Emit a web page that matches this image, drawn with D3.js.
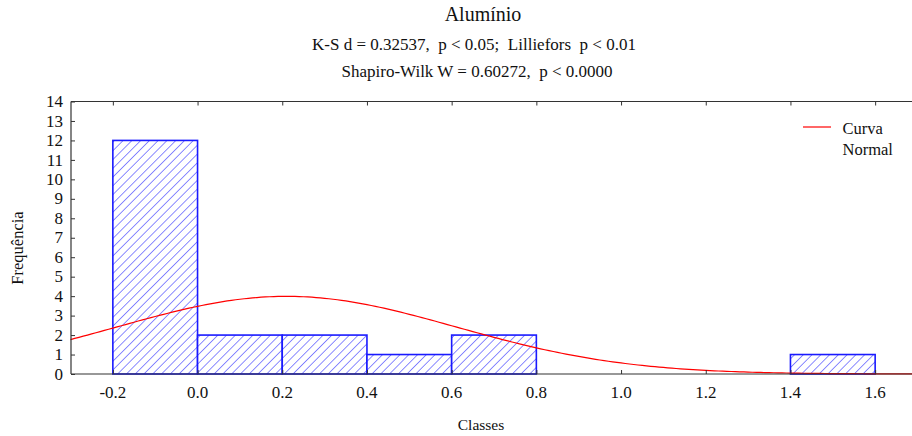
<!DOCTYPE html>
<html>
<head>
<meta charset="utf-8">
<script src="https://cdn.jsdelivr.net/npm/d3@7"></script>
<style>
  html, body { margin: 0; padding: 0; background: #fff; }
  svg { display: block; }
</style>
</head>
<body>
<svg id="chart" width="912" height="436"></svg>
<script>
// Histogram classes (lower and upper bounds) and their frequencies
const binStart = [-0.2, 0.0, 0.2, 0.4, 0.6, 1.4];
const binEnd   = [ 0.0, 0.2, 0.4, 0.6, 0.8, 1.6];
const counts   = [12, 2, 2, 1, 2, 1];

// Fitted normal curve parameters (expected frequency per class)
const normalMean = 0.21;
const normalSd = 0.40;
const sampleSize = 20;
const classWidth = 0.2;

const xTicks = [-0.2, 0.0, 0.2, 0.4, 0.6, 0.8, 1.0, 1.2, 1.4, 1.6];
const yTicks = [0, 1, 2, 3, 4, 5, 6, 7, 8, 9, 10, 11, 12, 13, 14];

const titleText = "Alumínio";
const subtitleLines = [
  "K-S d = 0.32537,  p < 0.05;  Lilliefors  p < 0.01",
  "Shapiro-Wilk W = 0.60272,  p < 0.0000"
];
const xLabel = "Classes";
const yLabel = "Frequência";
const legendLines = ["Curva", "Normal"];

const FONT = "Liberation Serif";
const svg = d3.select("#chart");
const plot = { left: 71, top: 101.5, bottom: 374 };

// serif text styling
function label(sel, size) {
  return sel.style("font-family", FONT)
    .style("white-space", "pre")
    .attr("font-size", size)
    .attr("fill", "#111");
}

const x = d3.scaleLinear().domain([-0.3, 1.7]).range([70.5, 917.5]);
const y = d3.scaleLinear().domain([0, 14]).range([374, 101.5]);

// Diagonal hatch for the bars
const hs = 6.2;
const defs = svg.append("defs");
const pat = defs.append("pattern")
  .attr("id", "hatch")
  .attr("patternUnits", "userSpaceOnUse")
  .attr("width", hs).attr("height", hs)
  .attr("patternTransform", "rotate(45)");
pat.append("rect").attr("width", hs).attr("height", hs).attr("fill", "#fff");
pat.append("line")
  .attr("x1", 0).attr("y1", 0).attr("x2", 0).attr("y2", hs)
  .attr("stroke", "#4040ff").attr("stroke-width", 1.2);

// Bars
svg.append("g").selectAll("rect")
  .data(counts)
  .join("rect")
  .attr("x", (d, i) => x(binStart[i]))
  .attr("y", d => y(d))
  .attr("width", (d, i) => x(binEnd[i]) - x(binStart[i]))
  .attr("height", d => y(0) - y(d))
  .attr("fill", "url(#hatch)")
  .attr("stroke", "#1a1aff")
  .attr("stroke-width", 1.6);

// Normal curve
const curveX = d3.range(-0.3, 1.7001, 0.01);
const normalFreq = v => sampleSize * classWidth *
  Math.exp(-0.5 * Math.pow((v - normalMean) / normalSd, 2)) / (normalSd * Math.sqrt(2 * Math.PI));
svg.append("path")
  .datum(curveX)
  .attr("fill", "none")
  .attr("stroke", "#ff0000")
  .attr("stroke-width", 1.2)
  .attr("d", d3.line().x(d => x(d)).y(d => y(normalFreq(d))));

// Frame lines
const frame = svg.append("g").attr("stroke", "#333").attr("stroke-width", 1.2);
frame.append("line").attr("x1", plot.left).attr("x2", 912).attr("y1", y(14)).attr("y2", y(14));
frame.append("line").attr("x1", plot.left).attr("x2", 912).attr("y1", y(0)).attr("y2", y(0));
frame.append("line").attr("x1", plot.left).attr("x2", plot.left).attr("y1", y(14)).attr("y2", y(0));

// Y axis ticks and labels
const yAxis = svg.append("g")
  .attr("transform", `translate(${plot.left},0)`)
  .call(d3.axisRight(y).tickValues(yTicks).tickSize(4).tickFormat(""));
yAxis.select(".domain").remove();
yAxis.selectAll("line").attr("stroke", "#333");
label(svg.append("g").selectAll("text")
  .data(yTicks)
  .join("text")
  .attr("x", 63)
  .attr("y", d => y(d))
  .attr("dy", "0.33em")
  .attr("text-anchor", "end"), 17)
  .text(d => String(d));

// X axis ticks (bottom and top) and labels
const xAxisB = svg.append("g")
  .attr("transform", `translate(0,${y(0)})`)
  .call(d3.axisTop(x).tickValues(xTicks).tickSize(4).tickFormat(""));
xAxisB.select(".domain").remove();
xAxisB.selectAll("line").attr("stroke", "#333");
const xAxisT = svg.append("g")
  .attr("transform", `translate(0,${y(14)})`)
  .call(d3.axisBottom(x).tickValues(xTicks).tickSize(4).tickFormat(""));
xAxisT.select(".domain").remove();
xAxisT.selectAll("line").attr("stroke", "#333");
label(svg.append("g").selectAll("text")
  .data(xTicks)
  .join("text")
  .attr("x", d => x(d))
  .attr("y", 398)
  .attr("text-anchor", "middle"), 17)
  .text(d => d.toFixed(1));

// Titles
label(svg.append("text")
  .attr("x", 483).attr("y", 21)
  .attr("text-anchor", "middle"), 20)
  .text(titleText);
const subCenters = [474, 477];
label(svg.append("g").selectAll("text")
  .data(subtitleLines)
  .join("text")
  .attr("x", (d, i) => subCenters[i])
  .attr("y", (d, i) => 50 + i * 27)
  .attr("text-anchor", "middle"), 17)
  .text(d => d);

// Axis titles
label(svg.append("text")
  .attr("x", 481).attr("y", 430)
  .attr("text-anchor", "middle"), 15.5)
  .text(xLabel);
label(svg.append("text")
  .attr("transform", "translate(23,248) rotate(-90)")
  .attr("text-anchor", "middle"), 16.5)
  .text(yLabel);

// Legend
svg.append("line")
  .attr("x1", 803).attr("x2", 831)
  .attr("y1", 127).attr("y2", 127)
  .attr("stroke", "#ff0000").attr("stroke-width", 1.2);
label(svg.append("g").selectAll("text")
  .data(legendLines)
  .join("text")
  .attr("x", 842.5)
  .attr("y", (d, i) => 134 + i * 21), 16.5)
  .text(d => d);
</script>
</body>
</html>
